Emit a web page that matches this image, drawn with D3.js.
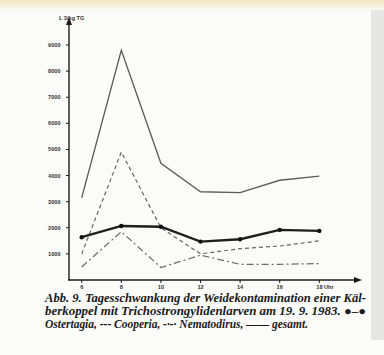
<!DOCTYPE html>
<html><head><meta charset="utf-8">
<script src="https://cdn.jsdelivr.net/npm/d3@7/dist/d3.min.js"></script>
<style>html,body{margin:0;padding:0;background:#fbfbf9;}svg{display:block;}</style>
</head><body>
<script>
const hours = [6, 8, 10, 12, 14, 16, 18];
const ostertagia = [1640, 2070, 2040, 1470, 1560, 1920, 1880];
const cooperia = [1000, 4900, 2000, 1000, 1200, 1300, 1500];
const nematodirus = [500, 1850, 480, 950, 600, 600, 630];
const gesamt = [3150, 8800, 4470, 3380, 3350, 3820, 3980];
const yTicks = [1000, 2000, 3000, 4000, 5000, 6000, 7000, 8000, 9000];
const xTickLabels = ["6", "8", "10", "12", "14", "16", "18 Uhr"];
const yAxisTitle = "L 3/kg TG";
const caption = [
  "Abb. 9. Tagesschwankung der Weidekontamination einer Käl-",
  "berkoppel mit Trichostrongylidenlarven am 19. 9. 1983. \u25CF\u2013\u25CF",
  "Ostertagia, --- Cooperia, -\u00B7-\u00B7 Nematodirus, \u2014\u2014 gesamt."
];

const W = 384, H = 355;
const svg = d3.select("body").append("svg").attr("width", W).attr("height", H);

// paper
svg.append("rect").attr("width", W).attr("height", H).attr("fill", "#fbfbf9");
const grad = svg.append("defs").append("linearGradient").attr("id", "top").attr("x1", 0).attr("x2", 0).attr("y1", 0).attr("y2", 1);
grad.append("stop").attr("offset", "0%").attr("stop-color", "#f6e7c4");
grad.append("stop").attr("offset", "100%").attr("stop-color", "#fbfbf9");
svg.append("rect").attr("width", W).attr("height", 12).attr("fill", "url(#top)");
svg.append("rect").attr("x", 371).attr("y", 10).attr("width", 13).attr("height", 330).attr("fill", "#e6e6e4");

const x = d3.scaleLinear().domain([6, 18]).range([81.7, 319.3]);
const y = d3.scaleLinear().domain([0, 9000]).range([280, 45]);
const x0 = 69, y0 = 280;

// axes lines
const axisCol = "#1a1a1a";
svg.append("line").attr("x1", x0).attr("x2", x0).attr("y1", y0).attr("y2", 22).attr("stroke", axisCol).attr("stroke-width", 1.4);
svg.append("line").attr("x1", x0 - 1).attr("x2", 357).attr("y1", y0).attr("y2", y0).attr("stroke", axisCol).attr("stroke-width", 1.4);
svg.append("path").attr("d", `M${x0},17 L${x0 - 3},25 L${x0 + 3},25 Z`).attr("fill", axisCol);
svg.append("path").attr("d", `M362,${y0} L354,${y0 - 3} L354,${y0 + 3} Z`).attr("fill", axisCol);

// y ticks
const yg = svg.append("g");
yTicks.forEach(v => {
  yg.append("line").attr("x1", x0 - 3).attr("x2", x0).attr("y1", y(v)).attr("y2", y(v)).attr("stroke", axisCol).attr("stroke-width", 1);
  yg.append("text").attr("x", 60.5).attr("y", y(v) + 2).attr("text-anchor", "end")
    .attr("font-family", "Liberation Sans, Arial, sans-serif").attr("font-size", 5.6).attr("font-weight", "bold")
    .attr("fill", "#333").text(v);
});
svg.append("text").attr("x", 59).attr("y", 20).attr("font-family", "Liberation Sans, Arial, sans-serif")
  .attr("font-size", 5.6).attr("font-weight", "bold").attr("fill", "#333").text(yAxisTitle);

// x ticks
hours.forEach((h, i) => {
  svg.append("line").attr("x1", x(h)).attr("x2", x(h)).attr("y1", y0).attr("y2", y0 + 3).attr("stroke", axisCol).attr("stroke-width", 1);
  const t = svg.append("text").attr("x", x(h)).attr("y", 288.8).attr("text-anchor", i === hours.length - 1 ? "start" : "middle")
    .attr("font-family", "Liberation Sans, Arial, sans-serif").attr("font-size", 5.6).attr("font-weight", "bold")
    .attr("fill", "#333").text(xTickLabels[i]);
  if (i === hours.length - 1) t.attr("x", x(h) - 3);
});

const line = d3.line().x((d, i) => x(hours[i])).y(d => y(d));

svg.append("path").datum(gesamt).attr("d", line).attr("fill", "none").attr("stroke", "#5c5c5c").attr("stroke-width", 1.3);
svg.append("path").datum(cooperia).attr("d", line).attr("fill", "none").attr("stroke", "#666").attr("stroke-width", 1.2).attr("stroke-dasharray", "4,3");
svg.append("path").datum(nematodirus).attr("d", line).attr("fill", "none").attr("stroke", "#6a6a6a").attr("stroke-width", 1.2).attr("stroke-dasharray", "7,3,2,3");
svg.append("path").datum(ostertagia).attr("d", line).attr("fill", "none").attr("stroke", "#1e1e1e").attr("stroke-width", 2.4);
svg.selectAll("circle.o").data(ostertagia).enter().append("circle")
  .attr("cx", (d, i) => x(hours[i])).attr("cy", d => y(d)).attr("r", 2.2).attr("fill", "#111");

// caption
const cap = svg.append("g").attr("font-family", "Liberation Serif, Times New Roman, serif").attr("font-style", "italic")
  .attr("font-weight", "bold").attr("font-size", 12).attr("fill", "#1a1a1a");
const capW = [321, 321, 263];
caption.forEach((c, i) => {
  cap.append("text").attr("x", 45).attr("y", 301.8 + i * 13.3).attr("textLength", capW[i]).attr("lengthAdjust", "spacingAndGlyphs").text(c);
});
</script>
</body></html>
